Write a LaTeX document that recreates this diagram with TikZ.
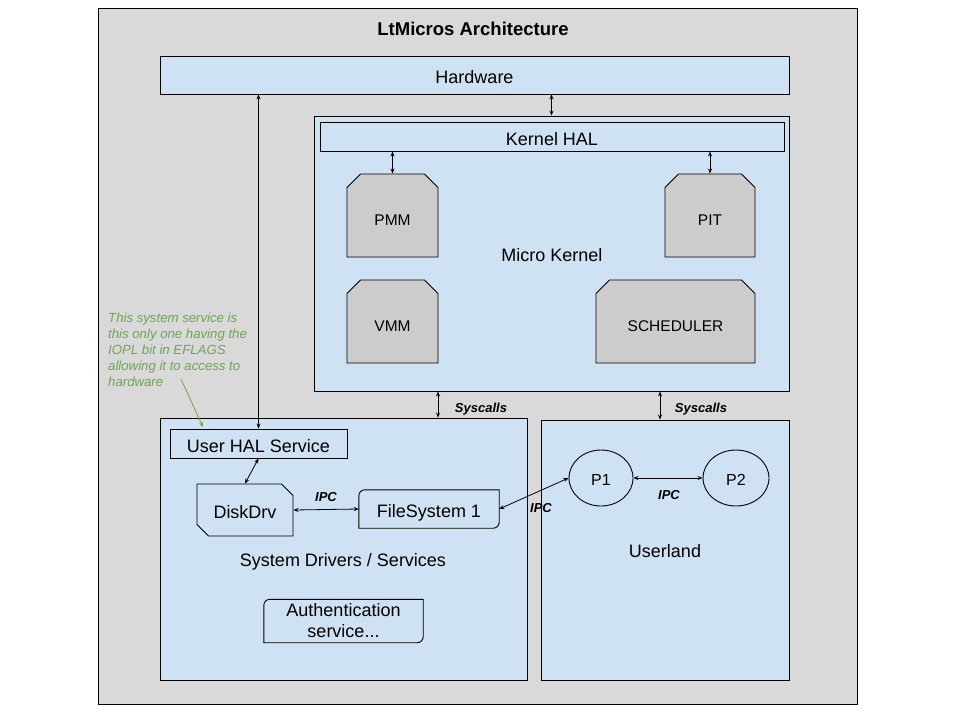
\documentclass[tikz,border=0pt]{standalone}
\usepackage{fontspec}
\setmainfont{Liberation Sans}
\usetikzlibrary{shapes.misc,shapes.geometric,arrows.meta}
\definecolor{bgray}{HTML}{D9D9D9}
\definecolor{lblue}{HTML}{CFE2F3}
\definecolor{cgray}{HTML}{CCCCCC}
\definecolor{ngreen}{HTML}{6AA84F}
\tikzset{
  bigfont/.style={font=\fontsize{18}{21}\selectfont},
  low text/.style={text height=17pt, text depth=0pt},
  blue box/.style={draw=black, fill=lblue, line width=0.9pt, inner sep=0pt, bigfont, low text},
  plain box/.style={draw=none, fill=lblue, inner sep=0pt, bigfont},
  gray box/.style={chamfered rectangle, chamfered rectangle corners={north west,north east},
     chamfered rectangle xsep=13pt, draw=black, fill=cgray, line width=0.9pt, inner sep=0pt,
     font=\fontsize{15.5}{18}\selectfont, text height=20pt, text depth=0pt},
  proc/.style={draw=black, fill=lblue, line width=0.9pt, ellipse, inner sep=0pt,
     minimum height=56pt, font=\fontsize{16}{19}\selectfont, text height=15.5pt, text depth=0pt},
  link/.style={line width=0.8pt, {Stealth[length=5pt,width=4pt]}-{Stealth[length=5pt,width=4pt]}},
  small label/.style={font=\fontsize{13}{15}\selectfont\bfseries\itshape},
  big label/.style={bigfont},
}
\begin{document}
\begin{tikzpicture}[x=1pt,y=-1pt]
\useasboundingbox (0,0) rectangle (960,720);
\fill[white] (0,0) rectangle (960,720);
% background frame
\node[draw=black, fill=bgray, line width=0.8pt, minimum width=759pt, minimum height=696pt, inner sep=0pt] (frame) at (477.5,356) {};
\node[font=\fontsize{18.5}{21}\selectfont\bfseries] (title) at (473,29) {LtMicros Architecture};
% hardware
\node[blue box, minimum width=629pt, minimum height=38pt] (hw) at (474.5,75) {Hardware};
% micro kernel
\node[blue box, minimum width=475pt, minimum height=275pt] (mk) at (551.5,253.5) {};
\node[big label] (mklabel) at (552,255) {Micro Kernel};
\node[blue box, minimum width=464pt, minimum height=29pt] (khal) at (552,136.5) {Kernel HAL};
\node[gray box, minimum width=91pt, minimum height=83pt] (pmm) at (392.5,215.5) {PMM};
\node[gray box, minimum width=90pt, minimum height=83pt] (pit) at (710,215.5) {PIT};
\node[gray box, minimum width=91pt, minimum height=83pt] (vmm) at (392.5,321.5) {VMM};
\node[gray box, minimum width=159pt, minimum height=83pt] (sched) at (675.5,321.5) {SCHEDULER};
% drivers / services
\node[blue box, minimum width=367pt, minimum height=262pt] (drv) at (343.5,549) {};
\node[big label] (drvlabel) at (343,562) {System Drivers / Services};
\node[blue box, minimum width=177pt, minimum height=29pt] (uhal) at (258.5,443.5) {User HAL Service};
\node[blue box, chamfered rectangle, chamfered rectangle corners={north east,south west},
      chamfered rectangle xsep=8pt, minimum width=96pt, minimum height=52pt] (dd) at (245,510) {DiskDrv};
\node[plain box, low text, minimum width=140pt, minimum height=38pt] (fs) at (429,509) {FileSystem 1};
\draw[line width=0.9pt] (fs.west) [rounded corners=6pt] -- (fs.north west) -- (fs.north) [sharp corners] -- (fs.north east) -- (fs.east) [rounded corners=6pt] -- (fs.south east) -- (fs.south) [sharp corners] -- (fs.south west) -- cycle;
\node[plain box, minimum width=159pt, minimum height=43pt, align=center] (auth) at (343.5,621) {Authentication\\service...};
\draw[line width=0.9pt] (auth.west) [rounded corners=6pt] -- (auth.north west) -- (auth.north) [sharp corners] -- (auth.north east) -- (auth.east) [rounded corners=6pt] -- (auth.south east) -- (auth.south) [sharp corners] -- (auth.south west) -- cycle;
% userland
\node[blue box, minimum width=248pt, minimum height=260pt] (ul) at (665,550) {};
\node[big label] (ullabel) at (665,551) {Userland};
\node[proc, minimum width=64pt] (p1) at (601,478) {P1};
\node[proc, minimum width=66pt] (p2) at (736,478) {P2};
% connectors
\draw[link] (mk.north) -- (mk.north |- hw.south);
\draw[link] (uhal.north) -- (uhal.north |- hw.south);
\draw[link] (pmm.north) -- (pmm.north |- khal.south);
\draw[link] (pit.north) -- (pit.north |- khal.south);
\coordinate (s1) at (438,0);
\coordinate (s2) at (660,0);
\draw[link] (s1 |- mk.south) -- (s1 |- drv.north);
\draw[link] (s2 |- mk.south) -- (s2 |- ul.north);
\node[small label] (sc1) at (481,409) {Syscalls};
\node[small label] (sc2) at (701,409) {Syscalls};
\draw[link] (uhal.south) -- (dd.north);
\draw[link] (dd.east) -- (fs.west);
\node[small label] (ipc1) at (326,497) {IPC};
\draw[link] (fs.east) -- (p1.west);
\node[small label] (ipc2) at (541,508) {IPC};
\draw[link] (p1.east) -- (p2.west);
\node[small label] (ipc3) at (669,495) {IPC};
% note
\node[anchor=north west, align=left, text=ngreen, inner sep=0pt, font=\fontsize{13.2}{16}\selectfont\itshape] (note) at (108,313) {This system service is\\this only one having the\\IOPL bit in EFLAGS\\allowing it to access to\\hardware};
\coordinate (ns) at (181,379);
\coordinate (ne) at (203,427);
\draw[ngreen, line width=0.8pt, -{Stealth[length=5pt,width=4pt]}] (ns) -- (ne);
\end{tikzpicture}
\end{document}
